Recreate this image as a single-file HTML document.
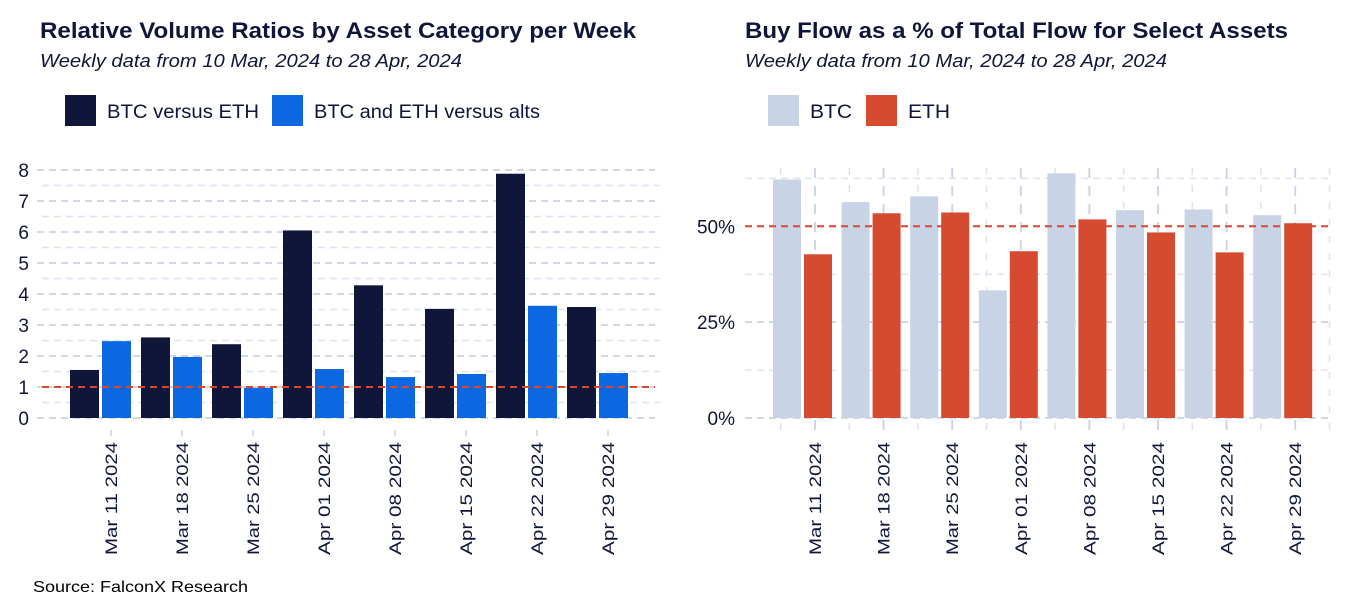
<!DOCTYPE html>
<html><head><meta charset="utf-8"><style>
body{margin:0;width:1350px;height:600px;background:#fff;overflow:hidden;font-family:"Liberation Sans",sans-serif;color:#121a3e}
svg{position:absolute;left:0;top:0}
</style></head><body>
<svg id="c" width="1350" height="600"></svg>
<script>
const weeks=["Mar 11 2024","Mar 18 2024","Mar 25 2024","Apr 01 2024","Apr 08 2024","Apr 15 2024","Apr 22 2024","Apr 29 2024"];
const btcVsEth=[1.55,2.6,2.38,6.05,4.28,3.52,7.88,3.58];
const btcEthVsAlts=[2.48,1.97,0.97,1.58,1.32,1.42,3.62,1.45];
const btcBuy=[62.2,56.3,57.8,33.3,63.8,54.2,54.4,52.9];
const ethBuy=[42.7,53.4,53.6,43.5,51.8,48.4,43.2,50.8];
const leftTicks=[0,1,2,3,4,5,6,7,8];
const rightTicks=[0,25,50];
const rightTickLabels=["0%","25%","50%"];
const NS="http://www.w3.org/2000/svg";
const svg=document.getElementById('c');
function el(t,a,txt){const e=document.createElementNS(NS,t);for(const k in a)e.setAttribute(k,a[k]);if(txt!==undefined)e.textContent=txt;svg.appendChild(e);return e;}
const DARK="#10153a",BLUE="#0b68e0",LIGHT="#c8d3e6",RED="#d64a30",GRID="#c9d2e6";
let e;
e=el('text',{x:40,y:38,'font-size':22,'font-weight':'bold',fill:DARK,textLength:596,lengthAdjust:'spacingAndGlyphs'},"Relative Volume Ratios by Asset Category per Week");

e=el('text',{x:40,y:67,'font-size':18,'font-style':'italic',fill:DARK,textLength:422,lengthAdjust:'spacingAndGlyphs'},"Weekly data from 10 Mar, 2024 to 28 Apr, 2024");

e=el('text',{x:745,y:38,'font-size':22,'font-weight':'bold',fill:DARK,textLength:543,lengthAdjust:'spacingAndGlyphs'},"Buy Flow as a % of Total Flow for Select Assets");

e=el('text',{x:745,y:67,'font-size':18,'font-style':'italic',fill:DARK,textLength:422,lengthAdjust:'spacingAndGlyphs'},"Weekly data from 10 Mar, 2024 to 28 Apr, 2024");

e=el('text',{x:33,y:592,'font-size':16,fill:'#000',textLength:215,lengthAdjust:'spacingAndGlyphs'},"Source: FalconX Research");

function legend(x,color,label,name,w){
 e=el('rect',{x:x,y:95,width:31,height:31,fill:color});
 
 e=el('text',{x:x+42,y:118,'font-size':19,fill:DARK,textLength:w,lengthAdjust:'spacingAndGlyphs'},label);
 
}
legend(65,DARK,"BTC versus ETH","legend-btc-vs-eth",152);
legend(272,BLUE,"BTC and ETH versus alts","legend-btc-eth-vs-alts",226);
legend(768,LIGHT,"BTC","legend-btc",42);
legend(866,RED,"ETH","legend-eth",42);
const L={x0:37,x1:655,y0:418,ppu:31.0,tick0:111,step:71};
const ly=v=>L.y0-v*L.ppu;
for(let v=0.5;v<8.5;v+=1){e=el('line',{x1:42,x2:660,y1:ly(v),y2:ly(v),stroke:"#dde3ef",'stroke-width':1.5,'stroke-dasharray':'7 5'});}
leftTicks.forEach(v=>{
 e=el('line',{x1:L.x0,x2:L.x1,y1:ly(v),y2:ly(v),stroke:GRID,'stroke-width':1.8,'stroke-dasharray':'7 5'});
 
 e=el('text',{x:29,y:ly(v)+7,'font-size':19,'text-anchor':'end',fill:DARK},String(v));
 
});
weeks.forEach((w,i)=>{
 const t=L.tick0+i*L.step,c=t-11;
 e=el('rect',{x:c-30,y:ly(btcVsEth[i]),width:29,height:btcVsEth[i]*L.ppu,fill:DARK});
 
 e=el('rect',{x:c+2,y:ly(btcEthVsAlts[i]),width:29,height:btcEthVsAlts[i]*L.ppu,fill:BLUE});
 
 e=el('line',{x1:t,x2:t,y1:430,y2:436,stroke:GRID,'stroke-width':1.5});
 
 e=el('text',{x:0,y:0,'font-size':17,'text-anchor':'end',fill:DARK,textLength:113,lengthAdjust:'spacingAndGlyphs',transform:`translate(${t+6},442) rotate(-90)`},w);
 
});
e=el('line',{x1:42,x2:655,y1:ly(1),y2:ly(1),stroke:RED,'stroke-width':2,'stroke-dasharray':'7 5'});

const R={x0:745,x1:1330,y0:418,ppu:3.834,tick0:815,step:68.6};
const ry=v=>R.y0-v*R.ppu;
[12.5,37.5,62.5].forEach(v=>{e=el('line',{x1:R.x0,x2:R.x1,y1:ry(v),y2:ry(v),stroke:"#dde3ef",'stroke-width':1.5,'stroke-dasharray':'7 5'});});
for(let i=-1;i<8;i++){const t=R.tick0+i*R.step+R.step/2;e=el('line',{x1:t,x2:t,y1:168,y2:432,stroke:"#dde3ef",'stroke-width':1.5,'stroke-dasharray':'7 10'});}
rightTicks.forEach((v,i)=>{
 e=el('line',{x1:R.x0,x2:R.x1,y1:ry(v),y2:ry(v),stroke:GRID,'stroke-width':1.8,'stroke-dasharray':'7 5'});
 
 e=el('text',{x:735,y:ry(v)+7,'font-size':19,'text-anchor':'end',fill:DARK},rightTickLabels[i]);
 
});
weeks.forEach((w,i)=>{
 const t=R.tick0+i*R.step;
 e=el('line',{x1:t,x2:t,y1:168,y2:438,stroke:GRID,'stroke-width':1.8,'stroke-dasharray':'10 8'});
 
});
weeks.forEach((w,i)=>{
 const t=R.tick0+i*R.step,c=t-13;
 e=el('rect',{x:c-29,y:ry(btcBuy[i]),width:28,height:btcBuy[i]*R.ppu,fill:LIGHT});
 
 e=el('rect',{x:c+2,y:ry(ethBuy[i]),width:28,height:ethBuy[i]*R.ppu,fill:RED});
 
 e=el('text',{x:0,y:0,'font-size':17,'text-anchor':'end',fill:DARK,textLength:113,lengthAdjust:'spacingAndGlyphs',transform:`translate(${t+6},442) rotate(-90)`},w);
 
});
e=el('line',{x1:R.x0,x2:R.x1,y1:ry(50),y2:ry(50),stroke:RED,'stroke-width':2,'stroke-dasharray':'7 5'});

</script>
</body></html>
